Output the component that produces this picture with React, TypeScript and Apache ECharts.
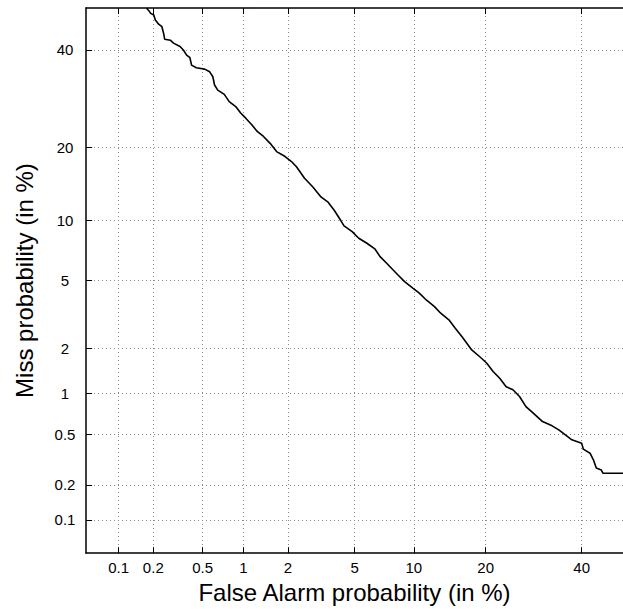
import React, { useEffect, useRef } from "react";
import * as echarts from "echarts";

// False alarm probability (%) and miss probability (%) along the DET curve
const falseAlarm = [
  0.175, 0.184, 0.19, 0.202, 0.208, 0.222, 0.236, 0.244, 0.249, 0.277,
  0.294, 0.332, 0.353, 0.375, 0.398, 0.41, 0.447, 0.518, 0.566, 0.598,
  0.616, 0.651, 0.728, 0.791, 0.882, 0.957, 1.04, 1.15, 1.25, 1.38,
  1.53, 1.69, 1.92, 2.11, 2.27, 2.55, 2.87, 3.21, 3.52, 3.84,
  4.18, 4.37, 4.85, 5.27, 5.83, 6.44, 6.83, 7.38, 7.95, 8.4,
  9.04, 9.89, 10.6, 11.4, 12.4, 13.2, 14.3, 15.2, 16.2, 17.7,
  19.1, 20.2, 21.3, 22.5, 23.7, 25.0, 26.3, 27.6, 29.0, 31.1,
  33.2, 34.7, 36.2, 37.7, 40.0, 40.4, 42.0, 42.8, 43.5, 44.7,
  45.1, 50,
];
const miss = [
  50, 49.3, 48.7, 48.3, 47.1, 46.1, 45.5, 43.9, 42.5, 42.3,
  41.6, 40.8, 40.0, 38.8, 38.2, 36.5, 35.9, 35.6, 35.0, 33.9,
  32.1, 31.0, 30.1, 28.6, 27.6, 26.3, 25.3, 24.0, 22.8, 21.9,
  20.7, 19.3, 18.5, 17.7, 16.9, 15.2, 14.0, 12.7, 12.1, 11.1,
  10.0, 9.42, 8.85, 8.23, 7.78, 7.27, 6.67, 6.17, 5.69, 5.35,
  4.93, 4.54, 4.26, 3.9, 3.57, 3.27, 2.99, 2.66, 2.36, 1.95,
  1.75, 1.6, 1.41, 1.27, 1.11, 1.06, 0.95, 0.806, 0.73, 0.627,
  0.583, 0.544, 0.498, 0.457, 0.431, 0.387, 0.36, 0.319, 0.274, 0.265,
  0.249, 0.249,
];
const tickPercents = [0.1, 0.2, 0.5, 1, 2, 5, 10, 20, 40];
const tickLabels = ["0.1", "0.2", "0.5", "1", "2", "5", "10", "20", "40"];
const axisMinPercent = 0.05;
const axisMaxPercent = 50;

// inverse standard normal CDF (Acklam)
function probit(p: number): number {
  const a = [-3.969683028665376e1, 2.209460984245205e2, -2.759285104469687e2, 1.38357751867269e2, -3.066479806614716e1, 2.506628277459239];
  const b = [-5.447609879822406e1, 1.615858368580409e2, -1.556989798598866e2, 6.680131188771972e1, -1.328068155288572e1];
  const c = [-7.784894002430293e-3, -3.223964580411365e-1, -2.400758277161838, -2.549732539343734, 4.374664141464968, 2.938163982698783];
  const d = [7.784695709041462e-3, 3.224671290700398e-1, 2.445134137142996, 3.754408661907416];
  const pl = 0.02425;
  if (p <= 0) return -8;
  if (p >= 1) return 8;
  let q: number, r: number;
  if (p < pl) {
    q = Math.sqrt(-2 * Math.log(p));
    return (((((c[0] * q + c[1]) * q + c[2]) * q + c[3]) * q + c[4]) * q + c[5]) /
      ((((d[0] * q + d[1]) * q + d[2]) * q + d[3]) * q + 1);
  }
  if (p <= 1 - pl) {
    q = p - 0.5;
    r = q * q;
    return (((((a[0] * r + a[1]) * r + a[2]) * r + a[3]) * r + a[4]) * r + a[5]) * q /
      (((((b[0] * r + b[1]) * r + b[2]) * r + b[3]) * r + b[4]) * r + 1);
  }
  q = Math.sqrt(-2 * Math.log(1 - p));
  return -(((((c[0] * q + c[1]) * q + c[2]) * q + c[3]) * q + c[4]) * q + c[5]) /
    ((((d[0] * q + d[1]) * q + d[2]) * q + d[3]) * q + 1);
}

const pz = (pct: number) => probit(pct / 100);
const tickValues = tickPercents.map(pz);
const labelFor = (v: number) => {
  let best = 0;
  let bd = Infinity;
  tickValues.forEach((t, i) => {
    const dd = Math.abs(t - v);
    if (dd < bd) { bd = dd; best = i; }
  });
  return bd < 0.01 ? tickLabels[best] : "";
};

const FONT = "'Liberation Sans', Arial, Helvetica, sans-serif";

export default function App() {
  const ref = useRef<HTMLDivElement>(null);
  useEffect(() => {
    if (!ref.current) return;
    const chart = echarts.init(ref.current, null, { renderer: "svg" });
    const lo = pz(axisMinPercent);
    const hi = pz(axisMaxPercent);
    const splitLine = {
      show: true,
      lineStyle: { color: "#8a8a8a", width: 1, type: [1, 3] as any },
    };
    const axisLine = { show: true, onZero: false, lineStyle: { color: "#000", width: 1.5 } };
    chart.setOption({
      animation: false,
      backgroundColor: "#fff",
      grid: { left: 86, top: 8, right: -9, bottom: 55, containLabel: false },
      xAxis: [
        {
          type: "value",
          min: lo,
          max: hi,
          position: "bottom",
          name: "False Alarm probability (in %)",
          nameLocation: "middle",
          nameGap: 23,
          nameTextStyle: { fontFamily: FONT, fontSize: 24, color: "#000" },
          axisLine,
          axisTick: { show: true, inside: true, length: 6, customValues: tickValues, lineStyle: { color: "#000" } },
          axisLabel: {
            customValues: tickValues,
            formatter: (v: number) => labelFor(v),
            fontFamily: FONT,
            fontSize: 15,
            color: "#000",
            margin: 7,
          },
          splitLine,
        },
        {
          type: "value",
          min: lo,
          max: hi,
          position: "top",
          axisLine,
          axisTick: { show: true, inside: true, length: 6, customValues: tickValues, lineStyle: { color: "#000" } },
          axisLabel: { show: false },
          splitLine: { show: false },
        },
      ],
      yAxis: {
        type: "value",
        min: lo,
        max: hi,
        name: "Miss probability (in %)",
        nameLocation: "middle",
        nameGap: 50,
        nameTextStyle: { fontFamily: FONT, fontSize: 24, color: "#000" },
        axisLine,
        axisTick: { show: true, inside: true, length: 6, customValues: tickValues, lineStyle: { color: "#000" } },
        axisLabel: {
          customValues: tickValues,
          formatter: (v: number) => labelFor(v),
          fontFamily: FONT,
          fontSize: 15,
          color: "#000",
          margin: 21,
          align: "center",
        },
        splitLine,
      },
      series: [
        {
          type: "line",
          xAxisIndex: 0,
          data: falseAlarm.map((x, i) => [pz(x), pz(miss[i])]),
          showSymbol: false,
          symbol: "none",
          clip: true,
          lineStyle: { color: "#000", width: 1.6 },
        },
      ],
    });
    return () => chart.dispose();
  }, []);
  return (
    <div
      ref={ref}
      style={{ position: "fixed", left: 0, top: 0, width: 623, height: 609, background: "#fff" }}
    />
  );
}
